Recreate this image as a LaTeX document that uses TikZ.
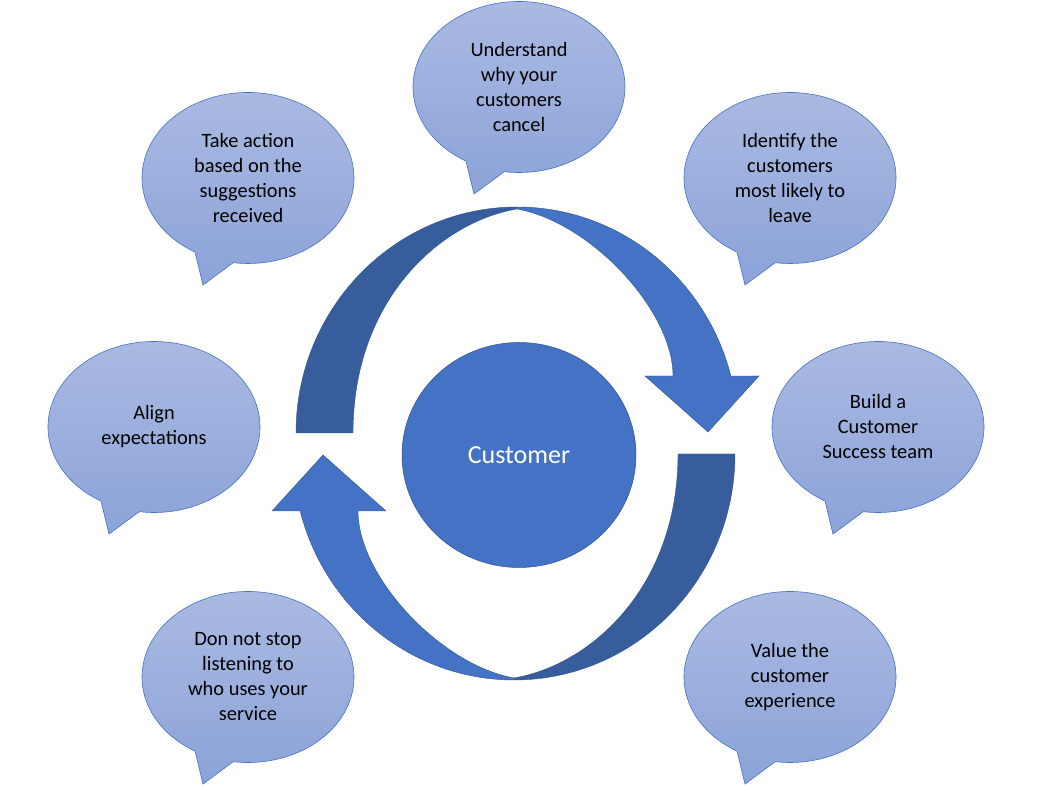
\documentclass[tikz,border=0pt]{standalone}
\usepackage{fontspec}
\setmainfont{Carlito}
\usetikzlibrary{positioning,shapes.geometric}

\definecolor{accent}{HTML}{4472C4}
\definecolor{accentdark}{HTML}{375D9D}
\definecolor{accentline}{HTML}{2F528F}
\definecolor{bubbletop}{HTML}{ABBAE2}
\definecolor{bubblebottom}{HTML}{8CA3D8}

\begin{document}
\begin{tikzpicture}[x=1pt, y=1pt,
    band/.style={fill=accent, draw=accentline, line width=0.4pt},
    backband/.style={fill=accentdark, draw=accentline, line width=0.4pt},
    hub/.style={ellipse, fill=accent, draw=accentline, line width=0.5pt,
      minimum width=234pt, minimum height=225pt, inner sep=0pt,
      text=white, font=\fontsize{26}{30}\selectfont},
    bubble/.style={draw=accent, line width=0.6pt, top color=bubbletop, bottom color=bubblebottom},
    bubbletext/.style={align=center, font=\fontsize{20.4}{25}\selectfont}]
  \useasboundingbox (0,0) rectangle (1042,786);

  % upper arrow
  \draw[backband] (296,353) arc[start angle=180, end angle=90, x radius=221, y radius=226]
    -- (517,577) .. controls (440,564) and (353,486) .. (353,353) -- cycle;
  \draw[band] (517,579) arc[start angle=90, end angle=14.6, x radius=221, y radius=226]
    -- (759,410) -- (708,354) -- (645,410) -- (673,410)
    .. controls (673,476) and (590,564) .. (517,577) -- cycle;

  % lower arrow
  \begin{scope}[rotate around={180:(515.5,342.5)}]
    \draw[backband] (296,353) arc[start angle=180, end angle=90, x radius=221, y radius=226]
      -- (517,577) .. controls (440,564) and (353,486) .. (353,353) -- cycle;
    \draw[band] (517,579) arc[start angle=90, end angle=14.6, x radius=221, y radius=226]
      -- (759,410) -- (708,354) -- (645,410) -- (673,410)
      .. controls (673,476) and (590,564) .. (517,577) -- cycle;
  \end{scope}

  \node[hub] (customer) at (519,331) {Customer};

  % speech bubbles
  \draw[bubble] (519,699) ++(262:106 and 85.5) arc[start angle=262, end angle=600, x radius=106, y radius=85.5] -- ++(8,-33) -- cycle;
  \node[bubbletext] (cancel) at (519,699) {Understand\\why your\\customers\\cancel};

  \draw[bubble] (248,608) ++(262:106 and 85.5) arc[start angle=262, end angle=600, x radius=106, y radius=85.5] -- ++(8,-33) -- cycle;
  \node[bubbletext] (action) at (248,608) {Take action\\based on the\\suggestions\\received};

  \draw[bubble] (790,608) ++(262:106 and 85.5) arc[start angle=262, end angle=600, x radius=106, y radius=85.5] -- ++(8,-33) -- cycle;
  \node[bubbletext] (leave) at (790,608) {Identify the\\customers\\most likely to\\leave};

  \draw[bubble] (154,359) ++(262:106 and 85.5) arc[start angle=262, end angle=600, x radius=106, y radius=85.5] -- ++(8,-33) -- cycle;
  \node[bubbletext] (align) at (154,359) {Align\\expectations};

  \draw[bubble] (878,359) ++(262:106 and 85.5) arc[start angle=262, end angle=600, x radius=106, y radius=85.5] -- ++(8,-33) -- cycle;
  \node[bubbletext] (team) at (878,359) {Build a\\Customer\\Success team};

  \draw[bubble] (248,109) ++(262:106 and 85.5) arc[start angle=262, end angle=600, x radius=106, y radius=85.5] -- ++(8,-33) -- cycle;
  \node[bubbletext] (listen) at (248,109) {Don not stop\\listening to\\who uses your\\service};

  \draw[bubble] (790,109) ++(262:106 and 85.5) arc[start angle=262, end angle=600, x radius=106, y radius=85.5] -- ++(8,-33) -- cycle;
  \node[bubbletext] (value) at (790,109) {Value the\\customer\\experience};
\end{tikzpicture}
\end{document}
